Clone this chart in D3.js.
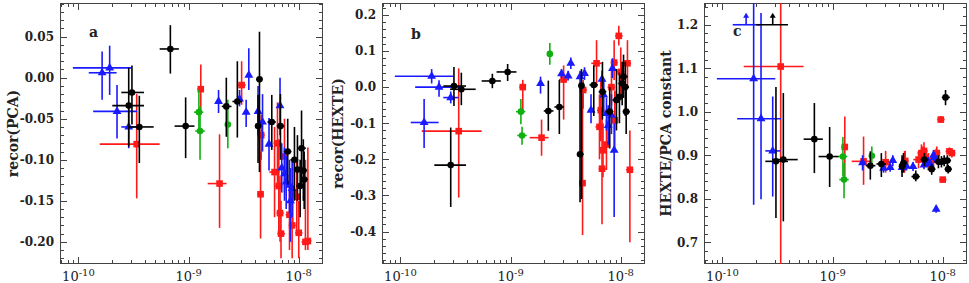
<!DOCTYPE html>
<html>
<head>
<meta charset="utf-8">
<script src="https://cdn.jsdelivr.net/npm/d3@7"></script>
<style>
  body { margin: 0; background: #fff; }
  svg { display: block; }
  text { font-family: "DejaVu Serif", serif; font-weight: bold; fill: #222; }
</style>
</head>
<body>
<div id="chart"></div>
<script>
// Each row: [flux, fluxLo, fluxHi,  a, aLo, aHi,  b, bLo, bHi,  c, cLo, cHi]
// a = recor(PCA), b = recor(HEXTE), c = HEXTE/PCA constant; cHi = null marks a lower limit
const blackPts = [
    [2.86e-10, 2.03e-10, 3.94e-10, -0.034, -0.084, 0.012, -0.216, -0.332, -0.112, 1.2, 1.2, null],
    [3.06e-10, 2.45e-10, 3.94e-10, -0.018, -0.057, 0.015, 0.003, -0.052, 0.056, 0.886, 0.756, 1.057],
    [3.57e-10, 2.82e-10, 4.82e-10, -0.060, -0.104, -0.022, -0.006, -0.05, 0.04, 0.890, 0.748, 1.043],
    [6.83e-10, 5.46e-10, 8.16e-10, 0.035, 0.005, 0.064, 0.017, -0.003, 0.037, 0.937, 0.859, 1.02],
    [9.4e-10, 7.46e-10, 1.13e-9, -0.059, -0.098, -0.024, 0.042, 0.017, 0.064, 0.897, 0.827, 0.965],
    [2.2e-9, 2.0e-9, 2.45e-9, -0.035, -0.072, 0.0, -0.066, -0.121, 0.018, 0.876, 0.844, 0.909],
    [2.77e-9, 2.5e-9, 3.05e-9, -0.029, -0.073, 0.020, -0.055, -0.13, 0.02, 0.88, 0.85, 0.905],
    [4.4e-9, 4.1e-9, 4.7e-9, -0.002, -0.115, 0.056, 0.004, -0.31, 0.05, 0.882, 0.86, 0.905],
    [4.27e-9, 4.0e-9, 4.6e-9, -0.059, -0.104, -0.021, -0.186, -0.319, 0.006, 0.875, 0.85, 0.9],
    [5.69e-9, 5.2e-9, 6.2e-9, -0.054, -0.088, -0.021, 0.006, -0.08, 0.06, 0.851, 0.84, 0.865],
    [6.82e-9, 6.3e-9, 7.4e-9, -0.059, -0.1, -0.02, -0.013, -0.09, 0.07, 0.89, 0.875, 0.905],
    [7.94e-9, 7.3e-9, 8.6e-9, -0.09, -0.13, -0.05, -0.068, -0.17, 0.0, 0.868, 0.855, 0.88],
    [9.14e-9, 8.4e-9, 9.9e-9, -0.10, -0.15, -0.06, -0.036, -0.12, 0.05, 0.885, 0.87, 0.9],
    [1.06e-8, 9.8e-9, 1.16e-8, -0.086, -0.13, -0.04, 0.029, -0.03, 0.09, 1.033, 1.015, 1.05],
    [9.73e-9, 9.0e-9, 1.05e-8, -0.112, -0.15, -0.07, -0.027, -0.1, 0.04, 0.885, 0.872, 0.898],
    [1.10e-8, 1.02e-8, 1.19e-8, -0.113, -0.15, -0.075, 0.0, -0.08, 0.07, 0.888, 0.875, 0.9],
    [1.12e-8, 1.04e-8, 1.21e-8, -0.124, -0.16, -0.09, -0.068, -0.13, 0.0, 0.868, 0.858, 0.878],
    [1.03e-8, 9.5e-9, 1.11e-8, -0.132, -0.17, -0.1, 0.01, -0.05, 0.07, 0.887, 0.875, 0.9]
];

const redPts = [
    [3.38e-10, 1.56e-10, 5.46e-10, -0.081, -0.147, -0.020, -0.122, -0.306, 0.052, 1.104, 0.5, 1.4],
    [1.29e-9, 1.2e-9, 1.38e-9, -0.014, -0.045, 0.016, 0.0, -0.07, 0.02, 0.919, 0.851, 0.989],
    [1.91e-9, 1.49e-9, 2.21e-9, -0.129, -0.183, -0.069, -0.14, -0.19, -0.09, 0.886, 0.832, 0.943],
    [3.03e-9, 2.75e-9, 3.3e-9, -0.009, -0.033, 0.02, 0.021, -0.09, 0.06, 0.884, 0.86, 0.91],
    [4.56e-9, 4.25e-9, 4.9e-9, -0.07, -0.1, -0.045, -0.008, -0.06, 0.02, 0.887, 0.865, 0.91],
    [4.5e-9, 4.2e-9, 4.8e-9, -0.142, -0.196, -0.09, -0.266, -0.41, -0.02, 0.885, 0.86, 0.91],
    [6.03e-9, 5.4e-9, 6.7e-9, -0.115, -0.17, -0.06, 0.066, 0.0, 0.13, 0.89, 0.87, 0.91],
    [6.41e-9, 5.9e-9, 7.0e-9, -0.080, -0.13, -0.03, -0.11, -0.2, -0.02, 0.905, 0.885, 0.925],
    [6.59e-9, 6.1e-9, 7.1e-9, -0.132, -0.19, -0.075, -0.064, -0.15, 0.02, 0.9, 0.88, 0.92],
    [6.76e-9, 6.3e-9, 7.3e-9, -0.165, -0.2, -0.12, -0.226, -0.38, -0.07, 0.91, 0.89, 0.93],
    [6.9e-9, 6.4e-9, 7.5e-9, -0.19, -0.22, -0.15, -0.175, -0.25, -0.1, 0.895, 0.875, 0.915],
    [7.42e-9, 6.9e-9, 8.0e-9, -0.096, -0.14, -0.05, -0.159, -0.23, -0.09, 0.885, 0.865, 0.905],
    [8.24e-9, 7.6e-9, 8.9e-9, -0.167, -0.21, -0.12, 0.0, -0.05, 0.05, 0.89, 0.875, 0.905],
    [8.71e-9, 8.1e-9, 9.4e-9, -0.18, -0.22, -0.14, 0.068, 0.02, 0.13, 0.9, 0.885, 0.915],
    [8.83e-9, 8.2e-9, 9.5e-9, -0.141, -0.18, -0.1, -0.092, -0.17, -0.01, 0.905, 0.89, 0.92],
    [9.6e-9, 8.9e-9, 1.04e-8, -0.145, -0.19, -0.1, 0.142, 0.115, 0.17, 0.982, 0.975, 0.99],
    [1.0e-8, 9.3e-9, 1.08e-8, -0.189, -0.22, -0.15, 0.042, -0.03, 0.11, 0.844, 0.838, 0.85],
    [1.15e-8, 1.06e-8, 1.24e-8, -0.2, -0.21, -0.1, 0.066, 0.0, 0.13, 0.909, 0.9, 0.918],
    [1.21e-8, 1.12e-8, 1.3e-8, -0.199, -0.21, -0.085, -0.229, -0.43, -0.12, 0.905, 0.895, 0.915]
];

const bluePts = [
    [1.64e-10, 1.24e-10, 2.22e-10, 0.006, -0.027, 0.032, -0.098, -0.169, -0.033, 1.2, 1.2, null],
    [1.92e-10, 8.9e-11, 3.02e-10, 0.012, -0.021, 0.039, 0.030, 0.010, 0.050, 1.076, 0.786, 1.4],
    [2.24e-10, 1.36e-10, 3.4e-10, -0.041, -0.074, -0.009, 0.0, -0.027, 0.019, 0.984, 0.799, 1.227],
    [2.86e-10, 2.45e-10, 3.36e-10, -0.060, -0.086, -0.035, -0.029, -0.045, -0.012, 0.910, 0.805, 1.035],
    [1.87e-9, 1.78e-9, 1.97e-9, -0.029, -0.043, -0.015, 0.010, -0.018, 0.029, 0.883, 0.865, 0.9],
    [2.9e-9, 2.78e-9, 3.02e-9, -0.026, -0.035, -0.015, 0.037, 0.025, 0.05, 0.87, 0.86, 0.88],
    [3.33e-9, 3.2e-9, 3.47e-9, -0.042, -0.06, -0.027, 0.031, 0.018, 0.045, 0.872, 0.862, 0.882],
    [3.52e-9, 3.38e-9, 3.66e-9, 0.003, -0.015, 0.036, 0.066, 0.05, 0.082, 0.888, 0.875, 0.9],
    [4.27e-9, 4.1e-9, 4.45e-9, -0.041, -0.07, -0.01, 0.029, 0.01, 0.045, 0.872, 0.86, 0.885],
    [4.69e-9, 4.5e-9, 4.9e-9, -0.054, -0.09, -0.02, 0.038, 0.02, 0.055, 0.875, 0.865, 0.885],
    [5.37e-9, 5.15e-9, 5.6e-9, -0.081, -0.113, -0.049, -0.064, -0.1, -0.02, 0.874, 0.864, 0.884],
    [6.76e-9, 6.5e-9, 7.05e-9, -0.034, -0.07, 0.0, 0.022, 0.0, 0.045, 0.878, 0.868, 0.888],
    [7.01e-9, 6.7e-9, 7.3e-9, -0.11, -0.14, -0.08, -0.022, -0.07, 0.02, 0.883, 0.873, 0.893],
    [7.42e-9, 7.1e-9, 7.75e-9, -0.117, -0.15, -0.085, -0.073, -0.12, -0.03, 0.885, 0.875, 0.895],
    [7.69e-9, 7.35e-9, 8.05e-9, -0.127, -0.16, -0.095, -0.106, -0.16, -0.05, 0.88, 0.87, 0.89],
    [8.24e-9, 7.9e-9, 8.6e-9, -0.131, -0.165, -0.1, -0.078, -0.13, -0.02, 0.9, 0.888, 0.912],
    [8.71e-9, 8.35e-9, 9.1e-9, -0.135, -0.17, -0.1, -0.175, -0.36, -0.1, 0.776, 0.768, 0.784],
    [8.41e-9, 8.05e-9, 8.8e-9, -0.150, -0.2, -0.11, 0.052, 0.025, 0.08, 0.895, 0.883, 0.907]
];

const greenPts = [
    [1.24e-9, 1.12e-9, 1.36e-9, -0.042, -0.066, -0.015, -0.068, -0.103, -0.033, 0.897, 0.852, 0.942],
    [1.27e-9, 1.15e-9, 1.4e-9, -0.065, -0.1, -0.035, -0.134, -0.16, -0.11, 0.844, 0.801, 0.882],
    [2.27e-9, 2.2e-9, 2.34e-9, -0.057, -0.086, -0.027, 0.092, 0.062, 0.122, 0.899, 0.88, 0.92]
];

const xDecades = [1e-10, 1e-9, 1e-8];
const xExponents = ["-10", "-9", "-8"];
const panelTitles = ["recor(PCA)", "recor(HEXTE)", "HEXTE/PCA constant"];
const panelLetters = ["a", "b", "c"];

// series styling
const series = [
    { pts: redPts, color: "#ff1a1a", shape: "square" },
    { pts: bluePts, color: "#1a1aff", shape: "triangle" },
    { pts: greenPts, color: "#10b010", shape: "circle" },
    { pts: blackPts, color: "#000000", shape: "circle" }
];

const W = 969, H = 283;
const plotTop = 3, plotW = 263, plotH = 261;

const panels = [
    { left: 60, col: 3, domain: [-0.227, 0.091], major: 0.05, minor: 0.01, fmt: ".2f", titleX: 18, letterY: 37 },
    { left: 382, col: 6, domain: [-0.49, 0.233], major: 0.1, minor: 0.02, fmt: ".1f", titleX: 343, letterY: 39 },
    { left: 704, col: 9, domain: [0.65, 1.25], major: 0.1, minor: 0.02, fmt: ".1f", titleX: 671, letterY: 36 }
];

const svg = d3.select("#chart").append("svg")
    .attr("width", W)
    .attr("height", H);

const x = d3.scaleLog()
    .domain([6.8e-11, 1.66e-8])
    .range([0, plotW]);

// minor x ticks 2..9 of every decade
const xMinor = [];
[-11, -10, -9, -8].forEach(e => {
    for (let k = 2; k <= 9; k++) xMinor.push(k * Math.pow(10, e));
});

panels.forEach((p, i) => {
    const g = svg.append("g").attr("transform", `translate(${p.left},${plotTop})`);

    const y = d3.scaleLinear().domain(p.domain).range([plotH, 0]);

    // clip for data marks
    svg.append("clipPath").attr("id", "clip" + i)
        .append("rect").attr("width", plotW).attr("height", plotH);

    // y ticks (drawn inward on both sides)
    const nMaj = Math.round((p.domain[1] - p.domain[0]) / p.major) + 2;
    const majStart = Math.ceil(p.domain[0] / p.major - 1e-9) * p.major;
    const yMajor = d3.range(nMaj).map(k => +(majStart + k * p.major).toFixed(4))
        .filter(v => v >= p.domain[0] && v <= p.domain[1]);
    const minStart = Math.ceil(p.domain[0] / p.minor - 1e-9) * p.minor;
    const yMinor = d3.range(200).map(k => +(minStart + k * p.minor).toFixed(4))
        .filter(v => v <= p.domain[1] && !yMajor.some(m => Math.abs(m - v) < 1e-6));

    const tickG = g.append("g").attr("stroke", "#444").attr("stroke-width", 1);

    yMinor.forEach(v => {
        const yy = Math.round(y(v)) + 0.5;
        tickG.append("line").attr("x1", 0).attr("x2", 4).attr("y1", yy).attr("y2", yy);
        tickG.append("line").attr("x1", plotW - 4).attr("x2", plotW).attr("y1", yy).attr("y2", yy);
    });
    yMajor.forEach(v => {
        const yy = Math.round(y(v)) + 0.5;
        tickG.append("line").attr("x1", 0).attr("x2", 7).attr("y1", yy).attr("y2", yy);
        tickG.append("line").attr("x1", plotW - 7).attr("x2", plotW).attr("y1", yy).attr("y2", yy);
    });

    // x ticks on bottom and top
    xMinor.filter(v => x(v) > 0.5 && x(v) < plotW - 0.5).forEach(v => {
        const xx = Math.round(x(v)) + 0.5;
        tickG.append("line").attr("x1", xx).attr("x2", xx).attr("y1", plotH).attr("y2", plotH - 4);
        tickG.append("line").attr("x1", xx).attr("x2", xx).attr("y1", 0).attr("y2", 4);
    });
    xDecades.forEach(v => {
        const xx = Math.round(x(v)) + 0.5;
        tickG.append("line").attr("x1", xx).attr("x2", xx).attr("y1", plotH).attr("y2", plotH - 7);
        tickG.append("line").attr("x1", xx).attr("x2", xx).attr("y1", 0).attr("y2", 7);
    });

    // frame
    g.append("rect")
        .attr("x", 0.5).attr("y", 0.5)
        .attr("width", plotW - 1).attr("height", plotH - 1)
        .attr("fill", "none").attr("stroke", "#444").attr("stroke-width", 1);

    // y tick labels
    const fmt = d3.format(p.fmt);
    g.selectAll(".ylab").data(yMajor).enter().append("text")
        .attr("x", -6)
        .attr("y", d => y(d))
        .attr("dy", "0.36em")
        .attr("text-anchor", "end")
        .style("font-size", "12px")
        .text(d => fmt(d).replace("\u2212", "-"));

    // x tick labels 10^n
    xDecades.forEach((v, k) => {
        const t = g.append("text")
            .attr("x", x(v))
            .attr("y", plotH + 17)
            .attr("text-anchor", "middle")
            .style("font-size", "13px")
            .style("font-weight", "normal");
        t.append("tspan").text("10");
        t.append("tspan").attr("dy", -5).style("font-size", "10px").text(xExponents[k]);
    });

    // axis title
    svg.append("text")
        .attr("transform", `translate(${p.titleX},${plotTop + plotH / 2}) rotate(-90)`)
        .attr("text-anchor", "middle")
        .style("font-size", "14px")
        .text(panelTitles[i]);

    // panel letter
    g.append("text")
        .attr("x", 29).attr("y", p.letterY - plotTop)
        .style("font-size", "14px")
        .text(panelLetters[i]);

    // data
    const dg = g.append("g").attr("clip-path", `url(#clip${i})`);
    const c = p.col;

    series.forEach(s => {
        const sg = dg.append("g");
        s.pts.forEach(r => {
            const px = x(r[0]);
            const py = y(r[c]);
            // horizontal error bar
            sg.append("line")
                .attr("x1", x(r[1])).attr("x2", x(r[2]))
                .attr("y1", py).attr("y2", py)
                .attr("stroke", s.color).attr("stroke-width", 1.6);
            if (r[c + 2] === null) {
                // lower limit arrow
                sg.append("line")
                    .attr("x1", px).attr("x2", px)
                    .attr("y1", py).attr("y2", py - 8)
                    .attr("stroke", s.color).attr("stroke-width", 1.6);
                sg.append("path")
                    .attr("d", `M${px - 3},${py - 7}L${px},${py - 12}L${px + 3},${py - 7}Z`)
                    .attr("fill", s.color);
                return;
            }
            sg.append("line")
                .attr("x1", px).attr("x2", px)
                .attr("y1", y(r[c + 1])).attr("y2", y(r[c + 2]))
                .attr("stroke", s.color).attr("stroke-width", 1.6);

            if (s.shape === "square") {
                sg.append("rect")
                    .attr("x", px - 3.3).attr("y", py - 3.3)
                    .attr("width", 6.6).attr("height", 6.6)
                    .attr("fill", s.color);
            } else if (s.shape === "triangle") {
                sg.append("path")
                    .attr("transform", `translate(${px},${py})`)
                    .attr("d", d3.symbol(d3.symbolTriangle, 34)())
                    .attr("fill", s.color);
            } else {
                sg.append("circle")
                    .attr("cx", px).attr("cy", py).attr("r", 3.3)
                    .attr("fill", s.color);
            }
        });
    });
});
</script>
</body>
</html>
